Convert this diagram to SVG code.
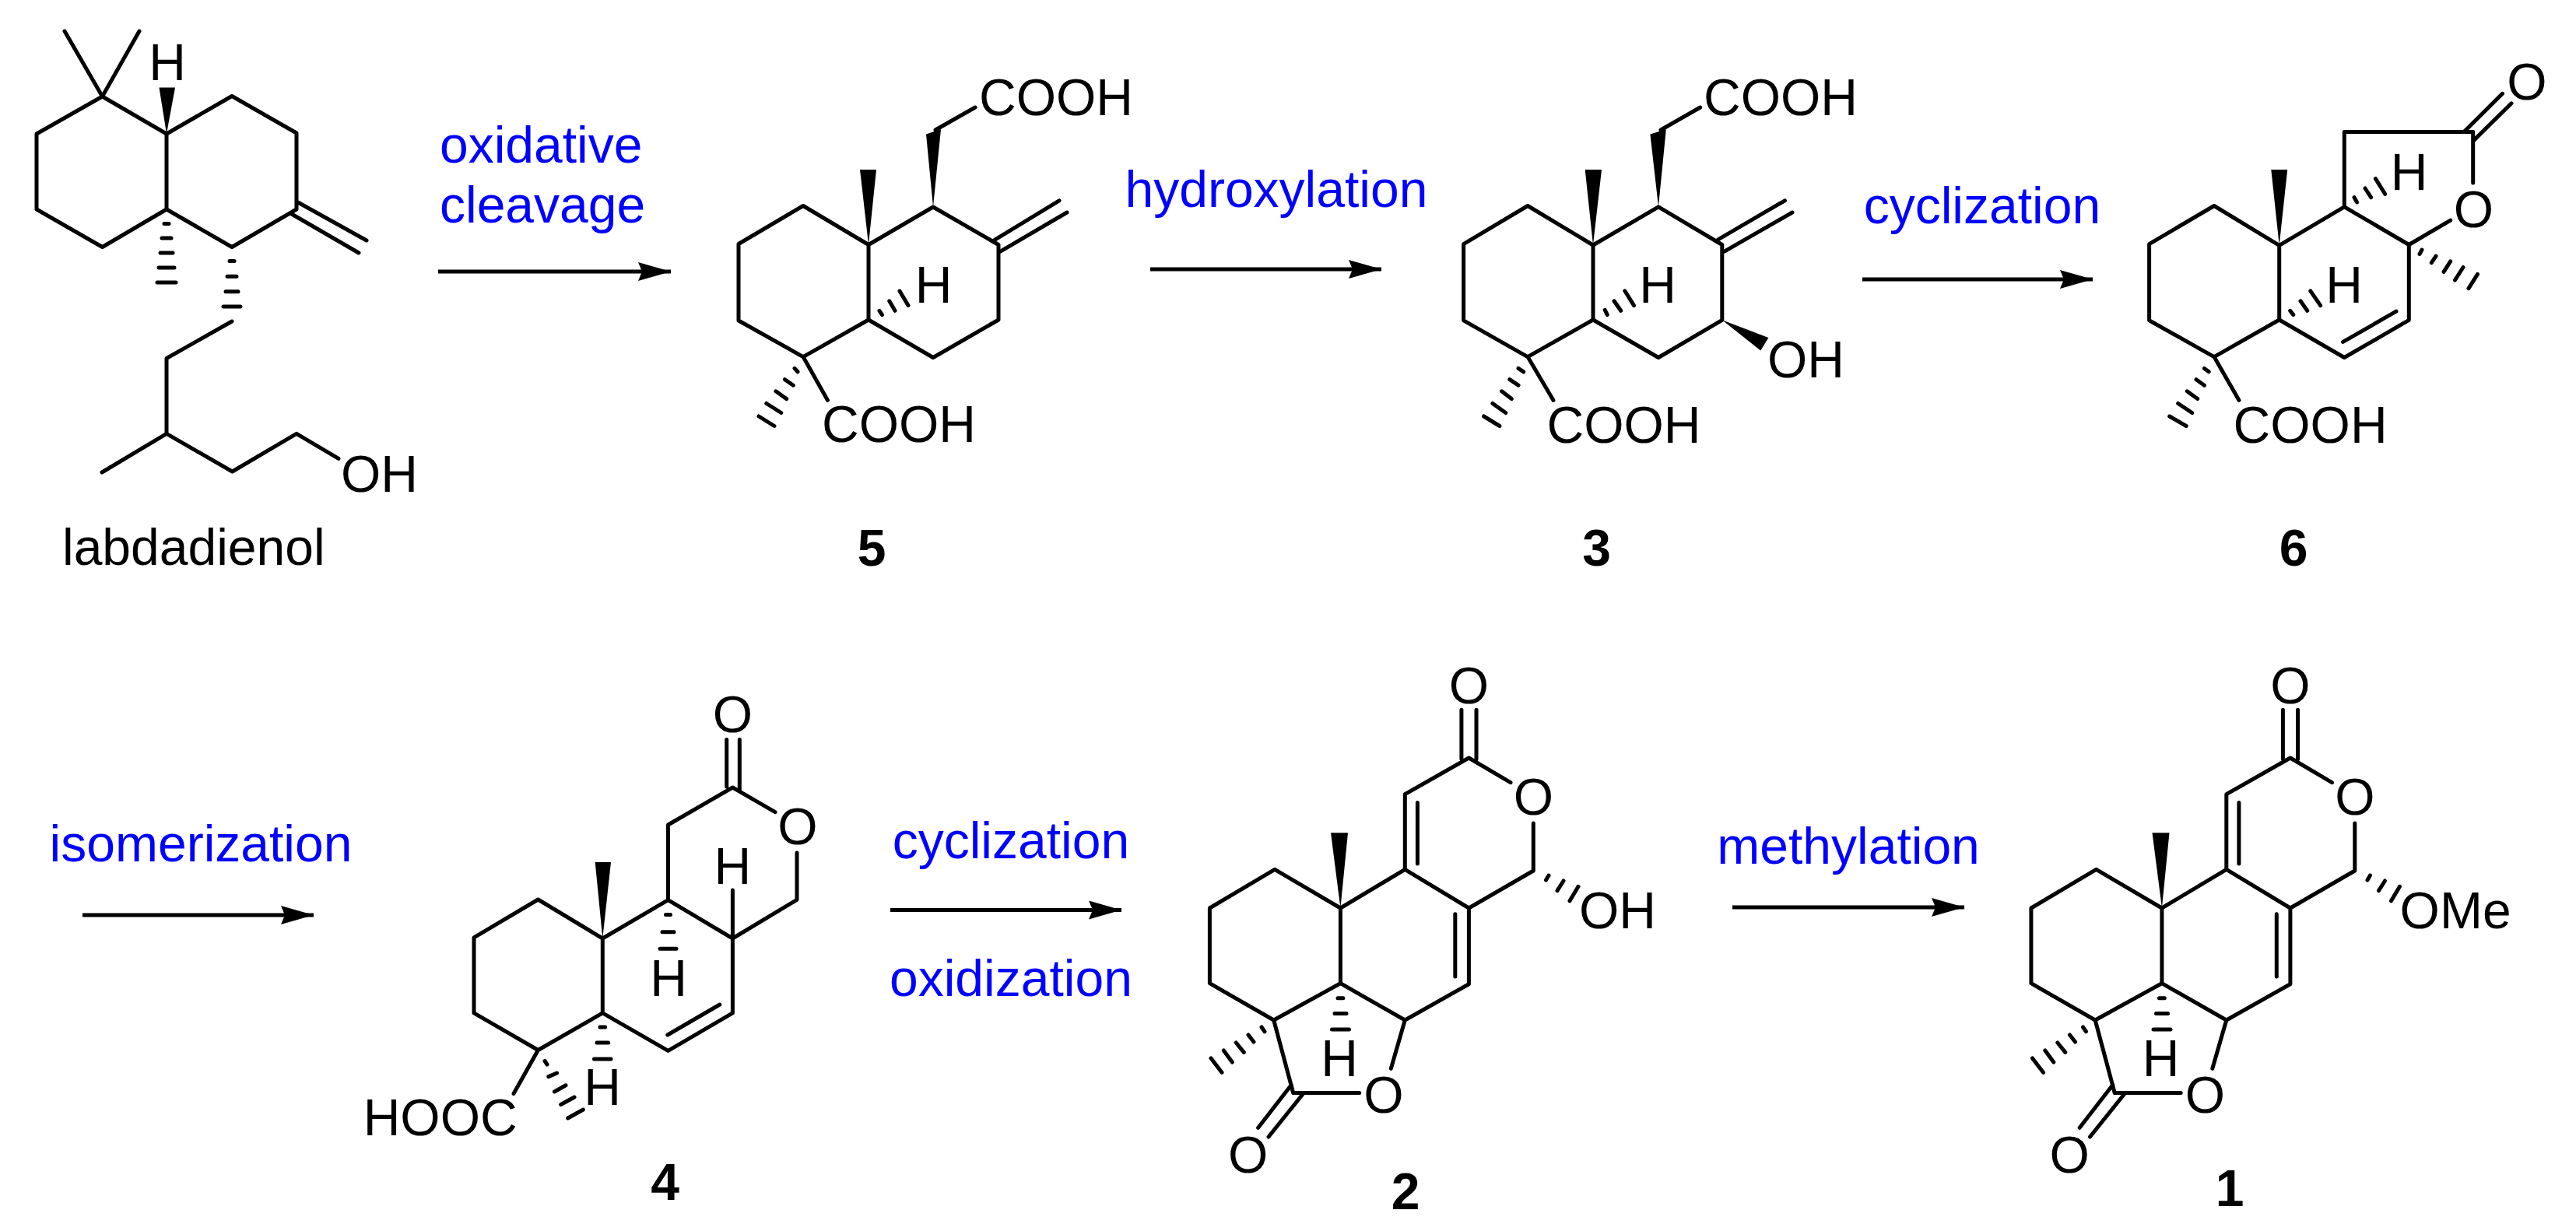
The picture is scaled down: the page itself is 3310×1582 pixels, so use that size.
<svg xmlns="http://www.w3.org/2000/svg" width="3310" height="1582" viewBox="0 0 3310 1582">
<style>
text{font-family:"Liberation Sans",Arial,sans-serif;font-size:66px;fill:#000}
.l{fill:#0000ff}
.n{font-weight:bold;text-anchor:middle}
.m{text-anchor:middle}
.b{fill:none;stroke:#000;stroke-width:5;stroke-linecap:round;stroke-linejoin:round}
.a{fill:none;stroke:#000;stroke-width:5}
.h{fill:#000}
</style>
<defs>
<marker id="ah" markerUnits="userSpaceOnUse" markerWidth="44" markerHeight="26" refX="42" refY="12" orient="auto"><path d="M0 0L42 12L0 24L5 12Z" fill="#000"/></marker>
</defs>
<rect width="3310" height="1582" fill="#fff"/>
<g id="connectors">
<path class="a" marker-end="url(#ah)" d="M563 349H862"/>
<path class="a" marker-end="url(#ah)" d="M1478 346H1775"/>
<path class="a" marker-end="url(#ah)" d="M2393 359H2689"/>
<path class="a" marker-end="url(#ah)" d="M106 1176H403"/>
<path class="a" marker-end="url(#ah)" d="M1144 1169.5H1441"/>
<path class="a" marker-end="url(#ah)" d="M2226 1166H2524"/>
</g>
<g id="reagents">
<text class="l" x="565" y="209">oxidative</text>
<text class="l" x="565" y="286">cleavage</text>
<text class="l" x="1445.5" y="266">hydroxylation</text>
<text class="l" x="2394.7" y="287">cyclization</text>
<text class="l" x="63.6" y="1107">isomerization</text>
<text class="l" x="1146.7" y="1103">cyclization</text>
<text class="l" x="1143" y="1280">oxidization</text>
<text class="l" x="2206.3" y="1110">methylation</text>
</g>
<g id="labdadienol">
<path class="b" d="M83 40L131.5 124L179 40M131.5 124L47 172V269L131.5 317.5L214 269V172L131.5 124M214 172L298 123.5L381 171V269L298 317.5L214 269M381 259L471 309M373 274L461 325"/>
<path class="b" d="M298 413L214 460.5V557.4L131 607M214 557.4L298.5 606L381 557.4L435 589.4"/>
<path class="b" d="M211 287.5H217M208 306H220M206 325H222M204 344H224M202 363H226M295 335.4H301M292 355.3H304M290 374.7H306M287 394H309"/>
<polygon class="h" points="214,172 204.5,112.5 225,112.5"/>
<text class="m" x="215" y="103">H</text>
<text x="438" y="631.5">OH</text>
<text x="80" y="725.6">labdadienol</text>
</g>
<g id="compound5">
<path class="b" d="M1116 314.5L1032 264.5L949 313.5V412L1032 458.6L1116 411V314.5L1199 266L1283 314.5V411L1199 459.5L1116 411M1277.6 308.6L1361 257.8M1285 323.4L1371 273M1202 167L1253 138M1032 458.6L1063.5 514.4"/>
<path class="b" d="M1130 399.3L1133.5 404.6M1142.7 386.8L1150 399.3M1156 374L1167 392.6M1021 473.4L1025 477.8M1008.4 487.7L1019.3 495.2M996.9 502.8L1010.7 512.6M984.8 518.5L1003.8 530.5M975 535L995 547.5"/>
<polygon class="h" points="1116,314.5 1105,218 1126,218"/>
<polygon class="h" points="1199,266 1190,172.5 1209,166"/>
<text x="1258" y="148">COOH</text>
<text class="m" x="1199.5" y="389">H</text>
<text x="1056" y="568">COOH</text>
<text class="n" x="1120" y="727">5</text>
</g>
<g id="compound3">
<path class="b" d="M2047 315L1963 264.5L1880.6 313.6V411.8L1963 458.6L2047 411V315L2131 265.8L2212.8 314.5V411.3L2131 459.5L2047 411M2207.6 307.8L2293.4 257.8M2215.3 323.4L2303 273M2134 167L2184.7 138M1963 458.6L1996 514.4"/>
<path class="b" d="M2062.2 398.4L2065.3 404.6M2074 386.8L2082.7 399.3M2087.8 373.8L2099.5 392.6M1951 473.4L1957.7 477.8M1939.8 487.7L1951 495.2M1929.6 502.8L1942.3 512.6M1917.9 518.5L1934.7 530.5M1906.6 535L1927 547.5"/>
<polygon class="h" points="2047,315 2036.7,218 2058,218"/>
<polygon class="h" points="2131,265.8 2120.4,172.5 2140.8,166.2"/>
<polygon class="h" points="2212.8,411.3 2272.4,434 2262.2,450.6"/>
<text x="2189" y="148">COOH</text>
<text class="m" x="2130" y="389">H</text>
<text x="2271" y="485.4">OH</text>
<text x="1987.5" y="569">COOH</text>
<text class="n" x="2051.5" y="727">3</text>
</g>
<g id="compound6">
<path class="b" d="M2928.7 315.3L2845 264.5L2761.6 313.6V411.8L2845 458.6L2928.7 411V315.3L3012.3 265.8L3095.3 314.5V411.3L3012.3 459.5L2928.7 411M3012.3 265.8V169.4H3177.7V235M3095.3 314.5L3148.7 283.2M3166 169.4L3215.5 120.3M3177.7 181.4L3227 132.8M3010.6 439.4L3079 400.2M2845 458.6L2877 514.4"/>
<path class="b" d="M3025 253.7L3028.6 260M3039 242L3046.6 253.7M3052.4 229.6L3064.6 249.3M2942.7 399.3L2946.7 404.6M2956 386.8L2964.7 399.3M2968.8 373.8L2981.6 392.6M3112 321L3109 326.5M3130 329.2L3124.3 337.7M3148.7 335.9L3140 349.3M3165 343.5L3154.5 360M3183.5 352.4L3172 370.7M2832.4 473.4L2838.2 477.8M2822 487.7L2832.4 495.2M2810.3 502.8L2823.7 512.6M2798.7 518.5L2816.7 530.5M2787.7 535L2809.2 547.5"/>
<polygon class="h" points="2928.7,315.3 2918.3,218 2939.2,218"/>
<text class="m" x="3247" y="128">O</text>
<text class="m" x="3178.5" y="292">O</text>
<text class="m" x="3095.5" y="244">H</text>
<text class="m" x="3012" y="389">H</text>
<text x="2869.6" y="569">COOH</text>
<text class="n" x="2947" y="727">6</text>
</g>
<g id="compound4">
<path class="b" d="M774.3 1206L691.4 1156L609 1204.8V1301.9L691.4 1349.5L774.3 1301.9V1206L858.5 1156.7L941.4 1206V1301.9L858.5 1350.4L774.3 1301.9M858.5 1156.7V1060L941.4 1012L996 1043.7M1024 1096V1156.3L941.4 1206M933.7 950.4V1011M950.3 950.4V1015.7M941.4 1144V1206M857.8 1330L924.8 1291M691.4 1349.5L660 1405.5"/>
<path class="b" d="M855.5 1175.4H861.5M851 1197.8H866M848 1219.2H869M771 1320H777.6M767 1340H781.6M763.5 1361H785M700 1363.5L703 1368M704.8 1383.6L715.6 1379M712.4 1403L727 1394.8M720.7 1419.5L738 1410M729.6 1437L749.4 1426"/>
<polygon class="h" points="774.3,1206 764.7,1108 785,1108"/>
<text class="m" x="941.4" y="941">O</text>
<text class="m" x="1024.8" y="1085">O</text>
<text class="m" x="941.4" y="1135.7">H</text>
<text class="m" x="859" y="1279.5">H</text>
<text class="m" x="774" y="1420.4">H</text>
<text x="466.7" y="1459">HOOC</text>
<text class="n" x="854.5" y="1542">4</text>
</g>
<g id="compound2">
<path class="b" d="M1722.4 1167L1638 1117.4L1554.4 1167V1263.7L1636.7 1311L1722.4 1263.7V1167L1805.3 1117.4L1887.4 1167V1264.7L1805.3 1311L1722.4 1263.7M1636.7 1311L1661.7 1404.5H1746.7M1805.3 1311L1787.3 1373.3M1805.3 1117.4V1020.7L1887.4 974L1941 1005.7M1970.3 1058V1119L1887.4 1167M1821.4 1031.4V1110M1869.8 1174.8V1255M1877.9 912.3V975.5M1897 912.3V975.5M1659.3 1394.3L1616.7 1449.3M1674.3 1405.7L1630 1461"/>
<path class="b" d="M1990 1125L1986.5 1131M2009 1132L2001 1144.6M2028 1139.3L2017 1157.8M1719 1282.7H1725.8M1715 1302.6H1730M1711.5 1323H1733.5M1621 1320L1625 1325.7M1604 1330L1611 1339M1588.3 1340L1598.3 1352.3M1572.3 1350L1583.3 1365M1556 1360L1570 1378.3"/>
<polygon class="h" points="1722.4,1167 1710,1070.3 1732,1070.3"/>
<text class="m" x="1887.4" y="904">O</text>
<text class="m" x="1970.3" y="1047">O</text>
<text x="2029" y="1192.8">OH</text>
<text class="m" x="1721" y="1383">H</text>
<text class="m" x="1778" y="1430">O</text>
<text class="m" x="1603.7" y="1507">O</text>
<text class="n" x="1806" y="1554">2</text>
</g>
<g id="compound1">
<g transform="translate(1055.5 0)">
<path class="b" d="M1722.4 1167L1638 1117.4L1554.4 1167V1263.7L1636.7 1311L1722.4 1263.7V1167L1805.3 1117.4L1887.4 1167V1264.7L1805.3 1311L1722.4 1263.7M1636.7 1311L1661.7 1404.5H1746.7M1805.3 1311L1787.3 1373.3M1805.3 1117.4V1020.7L1887.4 974L1941 1005.7M1970.3 1058V1119L1887.4 1167M1821.4 1031.4V1110M1869.8 1174.8V1255M1877.9 912.3V975.5M1897 912.3V975.5M1659.3 1394.3L1616.7 1449.3M1674.3 1405.7L1630 1461"/>
<path class="b" d="M1990 1125L1986.5 1131M2009 1132L2001 1144.6M2028 1139.3L2017 1157.8M1719 1282.7H1725.8M1715 1302.6H1730M1711.5 1323H1733.5M1621 1320L1625 1325.7M1604 1330L1611 1339M1588.3 1340L1598.3 1352.3M1572.3 1350L1583.3 1365M1556 1360L1570 1378.3"/>
<polygon class="h" points="1722.4,1167 1710,1070.3 1732,1070.3"/>
</g>
<text class="m" x="2942.9" y="904">O</text>
<text class="m" x="3025.8" y="1047">O</text>
<text x="3083.6" y="1192.8">OMe</text>
<text class="m" x="2776.5" y="1383">H</text>
<text class="m" x="2833.5" y="1430">O</text>
<text class="m" x="2659.2" y="1507">O</text>
<text class="n" x="2865" y="1550">1</text>
</g>
</svg>
